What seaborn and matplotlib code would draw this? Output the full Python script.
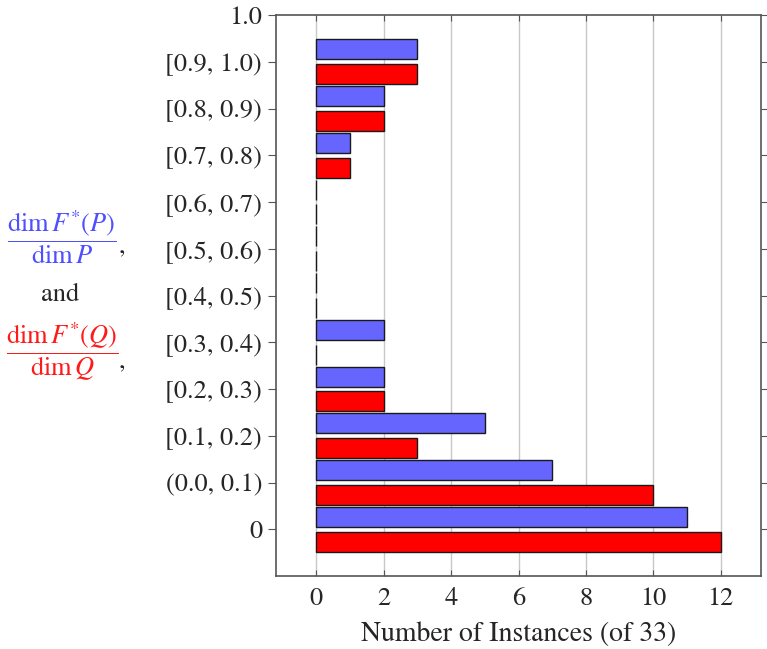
import numpy as np
import pandas as pd
import matplotlib
matplotlib.use("Agg")
import matplotlib.pyplot as plt
import seaborn as sns

# Categories (bottom to top in the picture)
categories = ['0', '(0.0, 0.1)', '[0.1, 0.2)', '[0.2, 0.3)', '[0.3, 0.4)', '[0.4, 0.5)',
              '[0.5, 0.6)', '[0.6, 0.7)', '[0.7, 0.8)', '[0.8, 0.9)', '[0.9, 1.0)', '1.0']
blue_counts = [11, 7, 5, 2, 2, 0, 0, 0, 1, 2, 3, np.nan]
red_counts = [12, 10, 3, 2, 0, 0, 0, 0, 1, 2, 3, np.nan]
series_names = ['P', 'Q']
x_ticks = [0, 2, 4, 6, 8, 10, 12]

blue_fill = '#6666ff'
red_fill = '#ff0000'

df = pd.DataFrame({
    'category': categories * 2,
    'series': [series_names[0]] * len(categories) + [series_names[1]] * len(categories),
    'count': blue_counts + red_counts,
})

sns.set_style("white")
plt.rcParams['font.family'] = ['STIXGeneral', 'DejaVu Serif']
plt.rcParams['mathtext.fontset'] = 'stix'

fig = plt.figure(figsize=(7.67, 6.49), dpi=100)
ax = fig.add_axes([276 / 767, 1 - 576 / 649, (761 - 276) / 767, (576 - 15) / 649])

order = categories[::-1]
sns.barplot(data=df, y='category', x='count', hue='series', order=order,
            hue_order=series_names, palette=[blue_fill, red_fill], saturation=1,
            orient='h', width=1.06, gap=0.19, edgecolor='#1a1a1a', linewidth=1.0,
            legend=False, ax=ax, zorder=3)

ax.set_ylim(len(categories), 0)
ax.set_xlim(-1.2, 13.2)
ax.set_xticks(x_ticks)
ax.xaxis.grid(True, color='#c8c8c8', linewidth=1.0, zorder=0)
ax.set_axisbelow(True)

ax.set_ylabel('')
ax.set_xlabel('Number of Instances (of 33)', fontsize=20, labelpad=8)
ax.tick_params(axis='x', direction='in', top=True, bottom=True, length=4,
               color='#555555', labelsize=19, pad=8)
ax.tick_params(axis='y', direction='out', left=True, right=True, length=6,
               color='#555555', labelsize=19, pad=4)
for s in ax.spines.values():
    s.set_color('#555555')
    s.set_linewidth(1.2)

# Left-hand label: coloured fractions
fig.text(62 / 767, 1 - 237 / 649, r'$\dfrac{\dim F^{*}(P)}{\dim P}$', color='#4f4fff',
         fontsize=19, ha='center', va='center')
fig.text(122 / 767, 1 - 247 / 649, ',', fontsize=19, ha='center', va='center')
fig.text(60 / 767, 1 - 295 / 649, 'and', fontsize=19, ha='center', va='center')
fig.text(62 / 767, 1 - 352 / 649, r'$\dfrac{\dim F^{*}(Q)}{\dim Q}$', color='#ff1a1a',
         fontsize=19, ha='center', va='center')
fig.text(122 / 767, 1 - 362 / 649, ',', fontsize=19, ha='center', va='center')

fig.savefig('out.png', dpi=100)
